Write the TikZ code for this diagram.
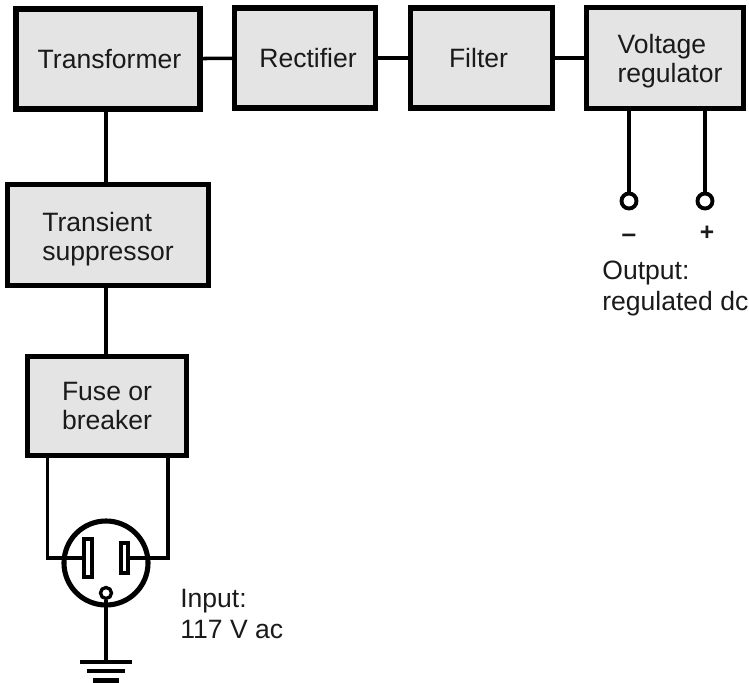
\documentclass[tikz,border=0pt]{standalone}
\usepackage{fontspec}
\setmainfont{Liberation Sans}
\usetikzlibrary{positioning}
\definecolor{blockfill}{HTML}{E4E4E4}
\definecolor{inktext}{HTML}{1A1A1A}
\tikzset{
  block/.style={draw=black, line width=3.1pt, fill=blockfill, text=inktext, align=left, inner sep=0pt},
  wire/.style={line width=2pt},
  pin/.style={draw=black, line width=2pt, fill=white, inner sep=0pt},
  hole/.style={circle, draw=black, fill=white, inner sep=0pt},
  gndbar/.style={fill=black, inner sep=0pt},
  caption/.style={text=inktext, align=left, inner sep=0pt, font=\fontsize{15.1}{17.7}\selectfont}
}

\begin{document}
\begin{tikzpicture}[font=\fontsize{15.1}{16.8}\selectfont]
  \useasboundingbox (0,0) rectangle (14.98,-13.66);
  % Blocks
  \node[block, minimum width=3.68cm, minimum height=2.0cm] (trans) at (2.16,-1.18) {\hspace*{.06cm}Transformer};
  \node[block, minimum width=2.82cm, minimum height=2.0cm] (rect) at (6.10,-1.16) {\hspace*{.12cm}Rectifier};
  \node[block, minimum width=2.84cm, minimum height=2.0cm] (filt) at (9.63,-1.16) {Filter\hspace*{.12cm}};
  \node[block, minimum width=3.14cm, minimum height=2.02cm] (reg) at (13.30,-1.16) {\hspace*{.2cm}\rule{0pt}{14.3pt}Voltage\\\hspace*{.2cm}regulator};
  \node[block, minimum width=4.02cm, minimum height=2.02cm] (supp) at (2.16,-4.70) {\rule{0pt}{15.5pt}Transient\\suppressor};
  \node[block, align=center, minimum width=3.18cm, minimum height=1.98cm] (fuse) at (2.14,-8.12) {Fuse or\\breaker};
  % Chain
  \draw[wire] (trans) -- (rect);
  \draw[wire] (rect) -- (filt);
  \draw[wire] (filt) -- (reg);
  \draw[wire] (trans.south -| 2.12,0) -- (supp.north -| 2.12,0);
  \draw[wire] (supp.south -| 2.12,0) -- (fuse.north -| 2.12,0);
  % Output
  \node[hole, line width=2.2pt, minimum size=.30cm] (neg) at (12.58,-4.02) {};
  \node[hole, line width=2.2pt, minimum size=.30cm] (pos) at (14.10,-4.02) {};
  \draw[wire] (neg |- reg.south) -- (neg);
  \draw[wire] (pos |- reg.south) -- (pos);
  \node[caption, font=\fontsize{15}{16.8}\bfseries] (minus) at (12.58,-4.76) {–};
  \node[caption, font=\fontsize{14}{15}\bfseries] (plus) at (14.14,-4.66) {+};
  \node[caption, anchor=north west] (outlbl) at (12.04,-5.22) {Output:\\regulated dc};
  % Plug
  \node[circle, draw=black, line width=2.9pt, minimum size=1.68cm, inner sep=0pt] (plug) at (2.12,-11.26) {};
  \node[pin, minimum width=.17cm, minimum height=.77cm] (lpin) at (1.76,-11.16) {};
  \node[pin, minimum width=.15cm, minimum height=.61cm] (rpin) at (2.49,-11.16) {};
  \draw[wire] ([xshift=.45cm]fuse.south west) |- (lpin.west);
  \draw[wire] ([xshift=-.42cm]fuse.south east) |- (rpin.east);
  % Ground
  \node[gndbar, minimum width=1.04cm, minimum height=.08cm] (gnda) at (2.12,-13.24) {};
  \node[gndbar, minimum width=.76cm, minimum height=.08cm] (gndb) at (2.12,-13.42) {};
  \node[gndbar, minimum width=.52cm, minimum height=.10cm] (gndc) at (2.12,-13.60) {};
  \node[hole, line width=1.9pt, minimum size=.22cm] (gnd) at (2.12,-11.86) {};
  \draw[wire] (gnd) -- (gnda);
  \node[caption, anchor=north west] (inlbl) at (3.60,-11.78) {Input:\\117 V ac};
\end{tikzpicture}
\end{document}
